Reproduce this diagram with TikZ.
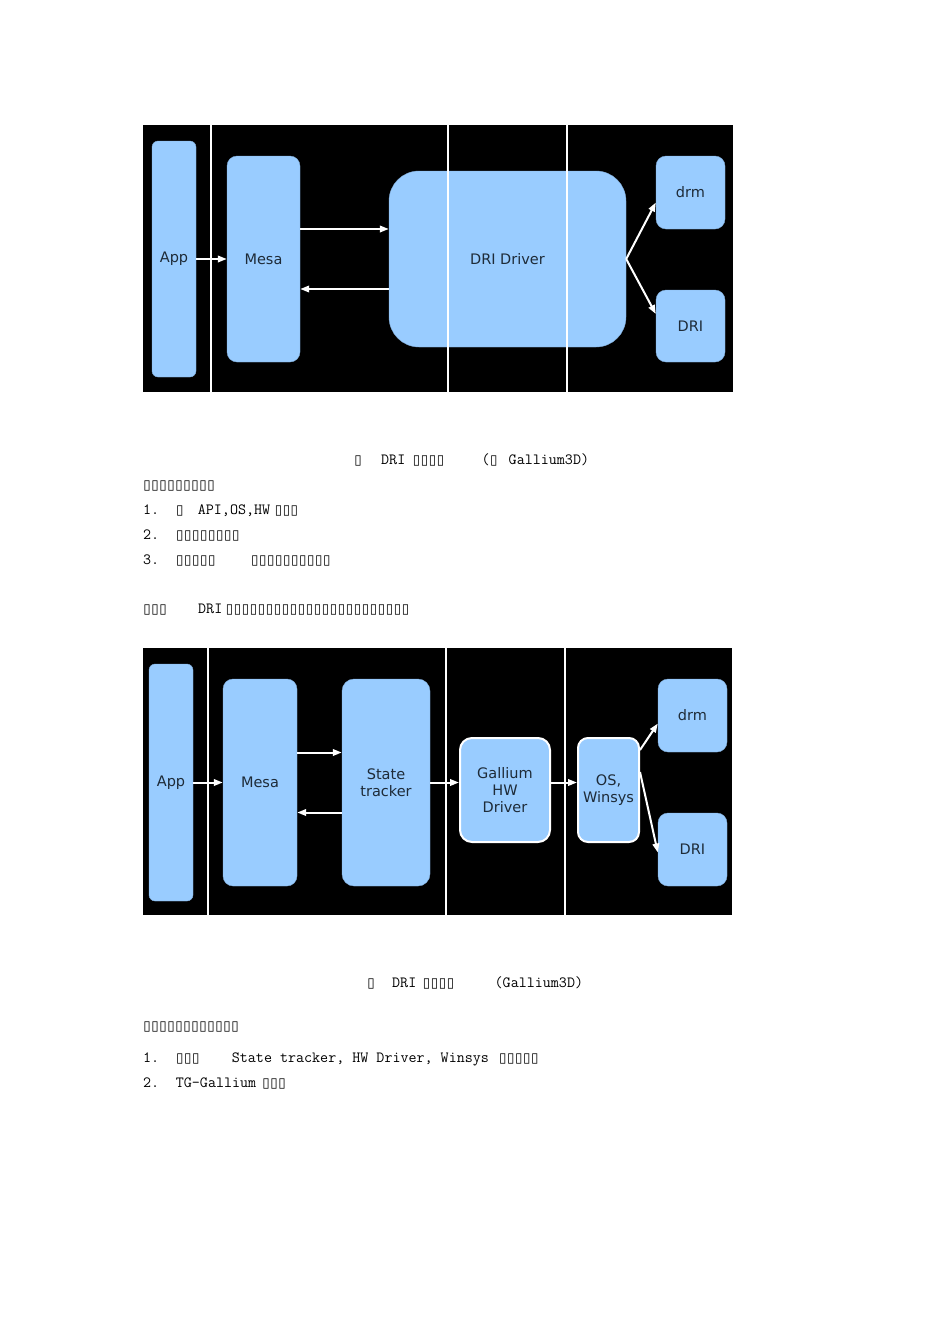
\documentclass[tikz,border=0pt]{standalone}
\usepackage{fontspec}
\usetikzlibrary{arrows.meta}
\newfontfamily\dejavu{DejaVu Sans}
\definecolor{boxblue}{HTML}{99CCFF}
\definecolor{boxtext}{HTML}{1E2B38}
\newcommand\tofu{\makebox[8pt]{\dejavu\fontsize{13.5}{13.5}\selectfont ▯}}

\begin{document}
\begin{tikzpicture}[x=1pt,y=-1pt,
  blk/.style={fill=boxblue,draw=boxblue!85!black,line width=0.4pt,inner sep=0pt,
    text=boxtext,align=center,font=\dejavu\fontsize{14.5}{17}\selectfont},
  gbox/.style={blk,draw=white,line width=2pt},
  arr/.style={draw=white,line width=2pt,-{Triangle[length=9pt,width=6.5pt]}},
  sep/.style={draw=white,line width=1.6pt},
  txt/.style={anchor=base west,inner sep=0pt,font=\ttfamily\fontsize{15.6}{18}\selectfont}]
\useasboundingbox (0,0) rectangle (950,1344);
\fill[white] (0,0) rectangle (950,1344);
% 图一：无 Gallium3D
\fill[black] (143,125) rectangle (733,392);
\node[blk,rounded corners=6pt,minimum width=44pt,minimum height=236pt] (app1) at (174,259) {App};
\node[blk,rounded corners=10pt,minimum width=73pt,minimum height=206pt] (mesa1) at (263.5,259) {Mesa};
\node[blk,rounded corners=30pt,minimum width=237pt,minimum height=176pt] (drv1) at (507.5,259) {DRI Driver};
\node[blk,rounded corners=10pt,minimum width=69pt,minimum height=73pt] (drm1) at (690.5,192.5) {drm};
\node[blk,rounded corners=10pt,minimum width=69pt,minimum height=72pt] (dri1) at (690.5,326) {DRI};
\foreach \x in {211,448,567}{
  \draw[sep] (\x,125) -- (\x,392);
}
\draw[arr] (app1) -- (mesa1);
\draw[arr] ([yshift=30pt]mesa1.east) -- ([yshift=30pt]drv1.west);
\draw[arr] ([yshift=-30pt]drv1.west) -- ([yshift=-30pt]mesa1.east);
\draw[arr] (drv1.east) -- ([yshift=-10pt]drm1.west);
\draw[arr] (drv1.east) -- ([yshift=12pt]dri1.west);
% 说明文字一
\node[txt] (cap1) at (354,464) {\tofu\hspace{19pt}DRI\hspace{7.4pt}\tofu\tofu\tofu\tofu\hspace{37pt}(\tofu\hspace{11pt}Gallium3D)};
\node[txt] (p1) at (143,489) {\tofu\tofu\tofu\tofu\tofu\tofu\tofu\tofu\tofu};
\node[txt] (p1a) at (143,514) {1.\hspace{16.6pt}\tofu\hspace{14pt}API,OS,HW\hspace{4.3pt}\tofu\tofu\tofu};
\node[txt] (p1b) at (143,539) {2.\hspace{16.6pt}\tofu\tofu\tofu\tofu\tofu\tofu\tofu\tofu};
\node[txt] (p1c) at (143,564) {3.\hspace{16.6pt}\tofu\tofu\tofu\tofu\tofu\hspace{35pt}\tofu\tofu\tofu\tofu\tofu\tofu\tofu\tofu\tofu\tofu};
\node[txt] (p2) at (143,613) {\tofu\tofu\tofu\hspace{31pt}DRI\hspace{3.4pt}\tofu\tofu\tofu\tofu\tofu\tofu\tofu\tofu\tofu\tofu\tofu\tofu\tofu\tofu\tofu\tofu\tofu\tofu\tofu\tofu\tofu\tofu\tofu};
% 图二：Gallium3D
\fill[black] (143,648) rectangle (732,915);
\node[blk,rounded corners=6pt,minimum width=44pt,minimum height=237pt] (app2) at (171,782.5) {App};
\node[blk,rounded corners=10pt,minimum width=74pt,minimum height=207pt] (mesa2) at (260,782.5) {Mesa};
\node[blk,rounded corners=12pt,minimum width=88pt,minimum height=207pt] (st2) at (386,782.5) {State\\tracker};
\node[gbox,rounded corners=12pt,minimum width=90pt,minimum height=104pt] (gal2) at (505,790) {Gallium\\HW\\Driver};
\node[gbox,rounded corners=10pt,minimum width=61pt,minimum height=104pt] (os2) at (608.5,790) {OS,\\Winsys};
\node[blk,rounded corners=10pt,minimum width=69pt,minimum height=73pt] (drm2) at (692.5,715.5) {drm};
\node[blk,rounded corners=10pt,minimum width=69pt,minimum height=73pt] (dri2) at (692.5,849.5) {DRI};
\foreach \x in {208,446,565}{
  \draw[sep] (\x,648) -- (\x,915);
}
\draw[arr] (app2) -- (mesa2);
\draw[arr] ([yshift=30pt]mesa2.east) -- ([yshift=30pt]st2.west);
\draw[arr] ([yshift=-30pt]st2.west) -- ([yshift=-30pt]mesa2.east);
\draw[arr] (st2.east) -- (gal2.west |- st2.east);
\draw[arr] (gal2.east |- st2.east) -- (os2.west |- st2.east);
\draw[arr] ([yshift=40pt]os2.east) -- ([yshift=-8pt]drm2.west);
\draw[arr] ([yshift=18pt]os2.east) -- ([yshift=-3pt]dri2.west);
% 说明文字二
\node[txt] (cap2) at (367,987) {\tofu\hspace{17pt}DRI\hspace{6.4pt}\tofu\tofu\tofu\tofu\hspace{40pt}(Gallium3D)};
\node[txt] (p3) at (143,1030) {\tofu\tofu\tofu\tofu\tofu\tofu\tofu\tofu\tofu\tofu\tofu\tofu};
\node[txt] (p3a) at (143,1062) {1.\hspace{16.6pt}\tofu\tofu\tofu\hspace{32pt}State tracker, HW Driver, Winsys\hspace{10pt}\tofu\tofu\tofu\tofu\tofu};
\node[txt] (p3b) at (143,1087) {2.\hspace{16.6pt}TG-Gallium\hspace{6pt}\tofu\tofu\tofu};
\end{tikzpicture}
\end{document}
